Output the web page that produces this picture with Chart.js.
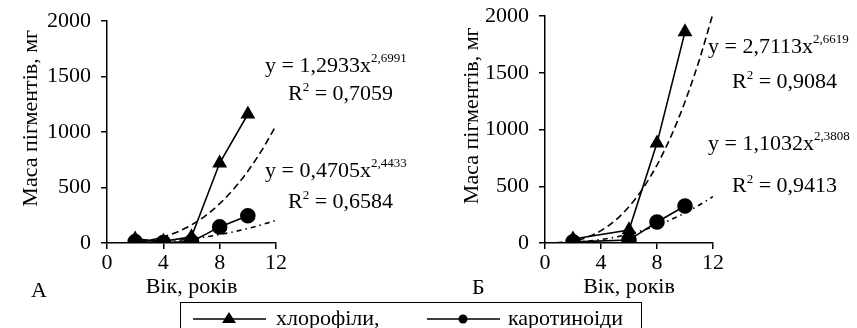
<!DOCTYPE html>
<html>
<head>
<meta charset="utf-8">
<script src="https://cdn.jsdelivr.net/npm/chart.js@4.4.0/dist/chart.umd.min.js"></script>
<style>
  body { margin: 0; background: #fff; }
  #wrap { position: relative; width: 857px; height: 328px; overflow: hidden; font-family: "Liberation Serif", serif; color: #000; }
  canvas { position: absolute; top: 0; }
  .eq { position: absolute; font-size: 22px; line-height: 22px; white-space: nowrap; }
  .eq sup { font-size: 13px; vertical-align: 10px; line-height: 0; }
  .eq sup.r { vertical-align: 9px; }
  .lbl { position: absolute; font-size: 22px; line-height: 22px; }
  #legend { position: absolute; left: 180px; top: 302px; width: 460px; height: 40px; border: 1px solid #000; }
  #legend span { position: absolute; top: 4px; font-size: 22px; line-height: 22px; }
  #legend svg { position: absolute; top: 8px; }
</style>
</head>
<body>
<div id="wrap">
  <canvas id="chartA" width="430" height="300" style="left:0"></canvas>
  <canvas id="chartB" width="427" height="300" style="left:430px"></canvas>

  <div class="eq" style="left:265px;top:54px">y = 1,2933x<sup>2,6991</sup></div>
  <div class="eq" style="left:288px;top:82px">R<sup class="r">2</sup> = 0,7059</div>
  <div class="eq" style="left:265px;top:159px">y = 0,4705x<sup>2,4433</sup></div>
  <div class="eq" style="left:288px;top:190px">R<sup class="r">2</sup> = 0,6584</div>

  <div class="eq" style="left:708px;top:35px">y = 2,7113x<sup>2,6619</sup></div>
  <div class="eq" style="left:732px;top:70px">R<sup class="r">2</sup> = 0,9084</div>
  <div class="eq" style="left:708px;top:132px">y = 1,1032x<sup>2,3808</sup></div>
  <div class="eq" style="left:732px;top:174px">R<sup class="r">2</sup> = 0,9413</div>

  <div class="lbl" style="left:31px;top:279px">А</div>
  <div class="lbl" style="left:472px;top:276px">Б</div>

  <div id="legend">
    <svg width="80" height="16" style="left:12px">
      <line x1="0" y1="8" x2="73" y2="8" stroke="#000" stroke-width="1.5"/>
      <polygon points="36,1 43,12 29,12" fill="#000"/>
    </svg>
    <span style="left:95px">хлорофіли,</span>
    <svg width="80" height="16" style="left:246px">
      <line x1="0" y1="8" x2="73" y2="8" stroke="#000" stroke-width="1.5"/>
      <circle cx="36" cy="8" r="4.5" fill="#000"/>
    </svg>
    <span style="left:327px">каротиноіди</span>
  </div>
</div>

<script>
// вік, років
const ageA = [2, 4, 6, 8, 10];
const ageB = [2, 6, 8, 10];

// маса пігментів, мг
const chlorophyllA = [35, 15, 55, 720, 1160];
const carotenoidA = [12, 4, 12, 145, 245];
const chlorophyllB = [35, 115, 880, 1860];
const carotenoidB = [10, 26, 185, 326];

// лінії тренду
const trendX = [0, 1, 2, 3, 4, 5, 6, 7, 8, 9, 10, 11, 12];
const trendChlA = [0, 1, 8, 25, 55, 100, 163, 247, 354, 487, 647, 837, 1058];
const trendCarA = [0, 0.5, 2.6, 6.9, 14, 24, 37, 55, 76, 101, 131, 165, 204];
const trendChlB = [0, 3, 17, 50, 109, 197, 320, 482, 687, 940, 1245, 1604, 2022];
const trendCarB = [0, 1, 6, 15, 30, 51, 79, 113, 156, 206, 265, 333, 409];

const xTicks = [0, 4, 8, 12];
const yTicks = [0, 500, 1000, 1500, 2000];

const FONT = 'Liberation Serif';
// пробіли на початку трохи піднімають підпис осі y
const Y_TITLE = '\u00A0\u00A0\u00A0\u00A0\u00A0Маса пігментів, мг';

function pts(xs, ys) {
  return xs.map((x, i) => ({x: x, y: ys[i]}));
}

function makeChart(id, opt) {
  const datasets = [
    {
      data: pts(trendX, opt.trendChl), borderColor: '#000', borderWidth: 1.6,
      borderDash: [7, 4], pointRadius: 0, cubicInterpolationMode: 'monotone', fill: false
    },
    {
      data: pts(trendX, opt.trendCar), borderColor: '#000', borderWidth: 1.6,
      borderDash: [5, 4, 1.5, 4], pointRadius: 0, cubicInterpolationMode: 'monotone', fill: false
    },
    {
      data: pts(opt.age, opt.chl), borderColor: '#000', borderWidth: 1.6,
      pointStyle: 'triangle', pointRadius: 7, pointBackgroundColor: '#000', pointBorderColor: '#000'
    },
    {
      data: pts(opt.age, opt.car), borderColor: '#000', borderWidth: 1.6,
      pointStyle: 'circle', pointRadius: 7, pointBackgroundColor: '#000', pointBorderColor: '#000'
    }
  ];

  return new Chart(document.getElementById(id), {
    type: 'line',
    data: { datasets: datasets },
    options: {
      responsive: false,
      animation: false,
      events: [],
      layout: { padding: { left: 0, top: opt.top, right: opt.right, bottom: 0 } },
      plugins: { legend: { display: false }, tooltip: { enabled: false } },
      scales: {
        x: {
          type: 'linear', min: 0, max: 12,
          afterBuildTicks: (s) => { s.ticks = xTicks.map(v => ({value: v})); },
          afterFit: (s) => { s.height = 57; },
          border: { display: true, color: '#000', width: 1.5 },
          grid: { drawOnChartArea: false, drawTicks: true, tickLength: 6, color: '#000', lineWidth: 1.5 },
          ticks: { color: '#000', font: { family: FONT, size: 22 }, padding: 1, maxRotation: 0, callback: v => String(v) },
          title: { display: true, text: 'Вік, років', color: '#000', font: { family: FONT, size: 22 }, padding: { top: opt.xtp, bottom: 0 } }
        },
        y: {
          min: 0, max: 2000,
          afterBuildTicks: (s) => { s.ticks = yTicks.map(v => ({value: v})); },
          // ширина осі задана, підписи не зсувають область графіка
          afterFit: (s) => { s.width = opt.yw; s.paddingTop = 0; s.paddingBottom = 0; },
          border: { display: true, color: '#000', width: 1.5 },
          grid: { drawOnChartArea: false, drawTicks: true, tickLength: 6, color: '#000', lineWidth: 1.5 },
          ticks: { color: '#000', font: { family: FONT, size: 22 }, padding: 10, callback: v => String(v) },
          title: { display: true, text: Y_TITLE, color: '#000', font: { family: FONT, size: 22 }, padding: { top: opt.ytp, bottom: 0 } }
        }
      }
    }
  });
}

makeChart('chartA', {
  age: ageA, chl: chlorophyllA, car: carotenoidA,
  trendChl: trendChlA, trendCar: trendCarA,
  top: 21, right: 154, yw: 107, ytp: 18, xtp: 0
});

makeChart('chartB', {
  age: ageB, chl: chlorophyllB, car: carotenoidB,
  trendChl: trendChlB, trendCar: trendCarB,
  top: 16, right: 144, yw: 115, ytp: 29, xtp: 3
});
</script>
</body>
</html>
